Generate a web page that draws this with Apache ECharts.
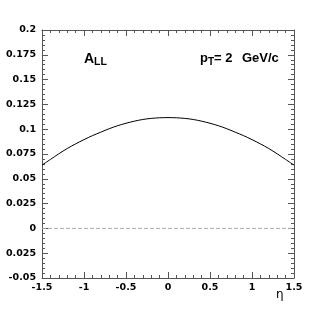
<!DOCTYPE html>
<html><head><meta charset="utf-8">
<script src="https://cdn.jsdelivr.net/npm/echarts@6/dist/echarts.min.js"></script>
<style>html,body{margin:0;padding:0;background:#fff}#c{width:315px;height:315px}</style>
</head><body><div id="c"></div>
<script>
const eta = [-1.5,-1.4,-1.3,-1.2,-1.1,-1.0,-0.9,-0.8,-0.7,-0.6,-0.5,-0.4,-0.3,-0.2,-0.1,0,0.1,0.2,0.3,0.4,0.5,0.6,0.7,0.8,0.9,1.0,1.1,1.2,1.3,1.4,1.5];
const ALL = [0.0638,0.0695,0.0752,0.0805,0.0852,0.0895,0.0935,0.0970,0.1005,0.1035,0.1060,0.1081,0.1098,0.1109,0.1115,0.1117,0.1115,0.1109,0.1098,0.1081,0.1060,0.1035,0.1005,0.0970,0.0935,0.0895,0.0852,0.0805,0.0752,0.0695,0.0638];
const zeroX = [-1.5, 1.5];
const zeroY = [0, 0];
const xTickLabels = {'-1.5':'-1.5','-1':'-1','-0.5':'-0.5','0':'0','0.5':'0.5','1':'1','1.5':'1.5'};
const yTickLabels = {'-0.05':'-0.05','-0.025':'0.025','0':'0','0.025':'0.025','0.05':'0.05','0.075':'0.075','0.1':'0.1','0.125':'0.125','0.15':'0.15','0.175':'0.175','0.2':'0.2'};

const chart = echarts.init(document.getElementById('c'));
const lab = {fontFamily:'DejaVu Sans', fontWeight:'bold', fontSize:9.5, color:'#000'};
const axLine = {show:true, onZero:false, lineStyle:{color:'#555', width:1}};
const tick = {inside:true, length:6, lineStyle:{color:'#555'}};
const mtick = {show:true, splitNumber:5, length:3, lineStyle:{color:'#555'}};
function key(v){return String(Math.round(v*1000)/1000);}
const bold = 'Liberation Sans';
chart.setOption({
  animation:false,
  grid:{left:42, right:21, top:30, bottom:37},
  xAxis:[{type:'value', min:-1.5, max:1.5, interval:0.5, axisLine:axLine,
    axisTick:tick, minorTick:mtick, splitLine:{show:false},
    axisLabel:Object.assign({margin:5, formatter:v=>xTickLabels[key(v)]??''}, lab)
  },{type:'value', position:'top', min:-1.5, max:1.5, interval:0.5, axisLine:axLine,
    axisTick:tick, minorTick:mtick, splitLine:{show:false}, axisLabel:{show:false}}],
  yAxis:[{type:'value', min:-0.05, max:0.2, interval:0.025, axisLine:axLine,
    axisTick:tick, minorTick:mtick, splitLine:{show:false},
    axisLabel:Object.assign({margin:6, formatter:v=>yTickLabels[key(v)]??''}, lab)
  },{type:'value', position:'right', min:-0.05, max:0.2, interval:0.025, axisLine:axLine,
    axisTick:tick, minorTick:mtick, splitLine:{show:false}, axisLabel:{show:false}}],
  series:[
    {type:'line', data:zeroX.map((x,i)=>[x,zeroY[i]]), symbol:'none',
     lineStyle:{color:'#aaa', width:1, type:[4,2]}, silent:true},
    {type:'line', data:eta.map((x,i)=>[x,ALL[i]]), symbol:'none', smooth:0.3,
     lineStyle:{color:'#000', width:1}}
  ],
  graphic:[
    {type:'text', left:84, top:52, style:{
      text:'{a|A}{s|LL}', rich:{a:{fontFamily:bold,fontWeight:'bold',fontSize:14,fill:'#000'},
      s:{fontFamily:bold,fontWeight:'bold',fontSize:10.5,fill:'#000',padding:[7,0,0,0]}}}},
    {type:'text', left:200, top:52, style:{
      text:'{a|p}{s|T}{a|= 2}', rich:{a:{fontFamily:bold,fontWeight:'bold',fontSize:13,fill:'#000'},
      s:{fontFamily:bold,fontWeight:'bold',fontSize:10,fill:'#000',padding:[7,0,0,0]}}}},
    {type:'text', left:242, top:52, style:{text:'GeV/c', font:'bold 13px "Liberation Sans"', fill:'#000'}},
    {type:'text', left:276, top:289, style:{text:'η', font:'12px "DejaVu Sans"', fill:'#000'}}
  ]
});
</script></body></html>
